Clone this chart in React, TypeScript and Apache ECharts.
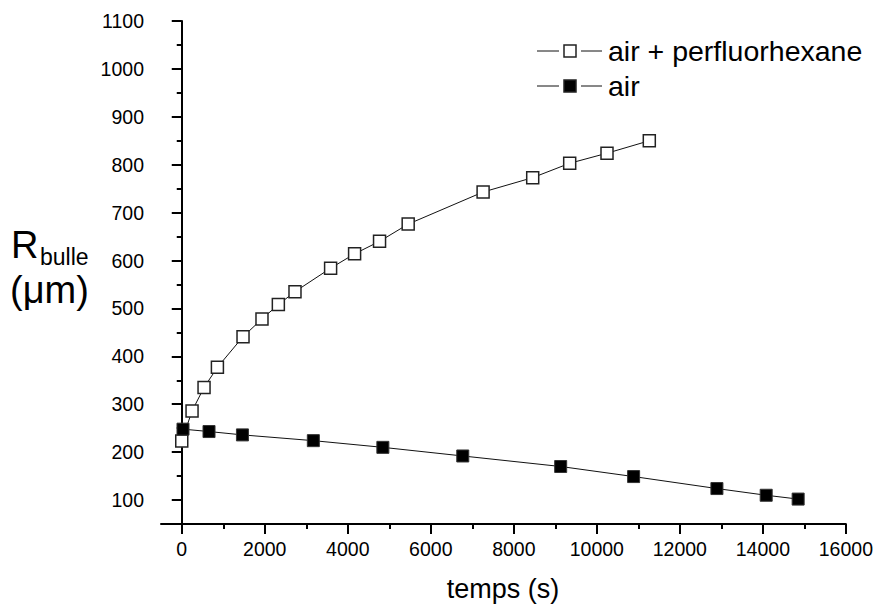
import React, { useEffect, useRef } from 'react';
import * as echarts from 'echarts';

const FONT = '"Liberation Sans", Arial, Helvetica, sans-serif';

// air + perfluorhexane (open squares)
const timeOpen = [0, 248, 537, 859, 1476, 1933, 2327, 2728, 3586, 4164, 4765, 5455, 7260, 8455, 9346, 10245, 11264];
const radiusOpen = [223, 286, 335, 377, 441, 478, 508, 535, 584, 614, 640, 676, 743, 773, 803, 824, 850];

// air (filled squares)
const timeAir = [30, 657, 1462, 3170, 4845, 6770, 9129, 10886, 12893, 14080, 14850];
const radiusAir = [248, 243, 236, 224, 210, 192, 170, 149, 124, 110, 102];

const xMajorTicks = [0, 2000, 4000, 6000, 8000, 10000, 12000, 14000, 16000];
const xMinorTicks = [1000, 3000, 5000, 7000, 9000, 11000, 13000, 15000];
const yMajorTicks = [100, 200, 300, 400, 500, 600, 700, 800, 900, 1000, 1100];
const yMinorTicks = [50, 150, 250, 350, 450, 550, 650, 750, 850, 950, 1050];

const seriesNames = ['air + perfluorhexane', 'air'];

export default function App() {
  const ref = useRef<HTMLDivElement>(null);
  useEffect(() => {
    if (!ref.current) return;
    const chart = echarts.init(ref.current, undefined, { renderer: 'svg' });
    const axisCol = '#000';
    const tickStyle = { color: axisCol, width: 2 };
    const plain = (v: number) => String(v);
    const legendRow = (y: number, filled: boolean, label: string) => [
      { type: 'line', shape: { x1: 537, y1: y, x2: 559, y2: y }, style: { stroke: '#111', lineWidth: 1 } },
      { type: 'rect', shape: { x: 564, y: y - 6, width: 12, height: 12 }, style: { fill: filled ? '#000' : '#fff', stroke: '#222', lineWidth: 1.5 } },
      { type: 'line', shape: { x1: 581, y1: y, x2: 602, y2: y }, style: { stroke: '#111', lineWidth: 1 } },
      { type: 'text', x: 608, y: y, style: { text: label, font: `28.5px ${FONT}`, fill: '#000', textVerticalAlign: 'middle', textAlign: 'left' } },
    ];
    chart.setOption({
      animation: false,
      grid: { left: 161, top: 21, width: 685, height: 503, containLabel: false },
      xAxis: [
        {
          type: 'value', min: -500, max: 16000, position: 'bottom',
          axisLine: { lineStyle: { color: axisCol, width: 2 } },
          axisTick: { customValues: xMajorTicks, length: 10, lineStyle: tickStyle },
          axisLabel: { customValues: xMajorTicks, formatter: plain, color: '#000', fontSize: 19.5, fontFamily: FONT, margin: 15 },
          splitLine: { show: false },
        },
        {
          type: 'value', min: -500, max: 16000, position: 'bottom', offset: 0,
          axisLine: { show: false },
          axisTick: { customValues: xMinorTicks, length: 5, lineStyle: tickStyle },
          axisLabel: { show: false },
          splitLine: { show: false },
        },
      ],
      yAxis: [
        {
          type: 'value', min: 50, max: 1100, position: 'left',
          axisLine: { show: true, lineStyle: { color: axisCol, width: 2 } },
          axisTick: { show: true, customValues: yMajorTicks, length: 10, lineStyle: tickStyle },
          axisLabel: { customValues: yMajorTicks, formatter: plain, color: '#000', fontSize: 19.5, fontFamily: FONT, margin: 17 },
          splitLine: { show: false },
        },
        {
          type: 'value', min: 50, max: 1100, position: 'left', offset: 0,
          axisLine: { show: false },
          axisTick: { show: true, customValues: yMinorTicks, length: 5, lineStyle: tickStyle },
          axisLabel: { show: false },
          splitLine: { show: false },
        },
      ],
      series: [
        {
          name: seriesNames[0], type: 'line', xAxisIndex: 0, yAxisIndex: 0,
          data: timeOpen.map((t, i) => [t, radiusOpen[i]]),
          symbol: 'rect', symbolSize: 12, showAllSymbol: true,
          lineStyle: { color: '#111', width: 1 },
          itemStyle: { color: '#fff', borderColor: '#222', borderWidth: 1.5 },
        },
        {
          name: seriesNames[1], type: 'line', xAxisIndex: 0, yAxisIndex: 0,
          data: timeAir.map((t, i) => [t, radiusAir[i]]),
          symbol: 'rect', symbolSize: 12, showAllSymbol: true,
          lineStyle: { color: '#111', width: 1 },
          itemStyle: { color: '#000', borderColor: '#333', borderWidth: 1 },
        },
      ],
      graphic: [
        ...legendRow(51, false, seriesNames[0]),
        ...legendRow(86, true, seriesNames[1]),
        { type: 'text', x: 503, y: 589, style: { text: 'temps (s)', font: `27px ${FONT}`, fill: '#000', textAlign: 'center', textVerticalAlign: 'middle' } },
        { type: 'text', x: 11, y: 245, style: { text: 'R', font: `38px ${FONT}`, fill: '#000', textAlign: 'left', textVerticalAlign: 'middle' } },
        { type: 'text', x: 40, y: 257, style: { text: 'bulle', font: `23px ${FONT}`, fill: '#000', textAlign: 'left', textVerticalAlign: 'middle' } },
        { type: 'text', x: 10, y: 290, style: { text: '(μm)', font: `38px ${FONT}`, fill: '#000', textAlign: 'left', textVerticalAlign: 'middle' } },
      ],
    });
    return () => chart.dispose();
  }, []);
  return <div ref={ref} style={{ position: 'absolute', left: 0, top: 0, width: 876, height: 604 }} />;
}
